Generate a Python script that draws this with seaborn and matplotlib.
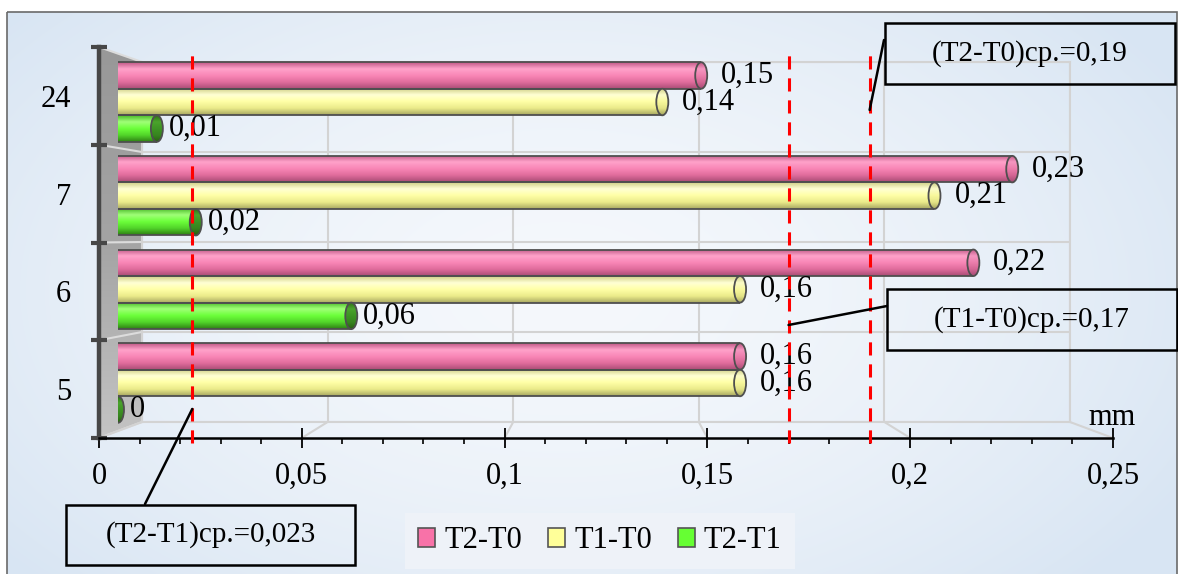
import numpy as np
import pandas as pd
import matplotlib
matplotlib.use("Agg")
import matplotlib.pyplot as plt
import seaborn as sns
from matplotlib.patches import Ellipse, Rectangle, Polygon, Patch, Arc
from matplotlib.colors import to_rgb, LinearSegmentedColormap
from matplotlib.ticker import FuncFormatter, MultipleLocator

# ---- data -------------------------------------------------------------
categories = ["24", "7", "6", "5"]
series = ["T2-T0", "T1-T0", "T2-T1"]
t2_t0 = [0.15, 0.23, 0.22, 0.16]
t1_t0 = [0.14, 0.21, 0.16, 0.16]
t2_t1 = [0.01, 0.02, 0.06, 0.0]
mean_names = ["T2-T1", "T1-T0", "T2-T0"]
mean_values = [0.023, 0.17, 0.19]
x_ticks = [0, 0.05, 0.1, 0.15, 0.2, 0.25]
unit = "mm"

# ---- style ------------------------------------------------------------
sns.set_theme(style="white")
plt.rcParams["font.family"] = ["Liberation Serif", "DejaVu Serif"]

FS = 22
palette = dict(zip(series, ["#f780b0", "#ffffa0", "#66ff33"]))
legend_colors = dict(zip(series, ["#f872a8", "#ffff99", "#66ff33"]))
body_stops = {
    "T2-T0": ["#c05886", "#ffa2ca", "#f986b6", "#e06c9c", "#a94c75"],
    "T1-T0": ["#cfcf86", "#ffffd4", "#ffffa6", "#eaea8a", "#a8a862"],
    "T2-T1": ["#48b827", "#a0ff78", "#6cff3a", "#52d42a", "#2e7f14"],
}
cap_stops = {
    "T2-T0": ["#bb5582", "#f596c0", "#ec7eac", "#d46694", "#a64b74"],
    "T1-T0": ["#cccc84", "#fbfbc8", "#f8f89c", "#e4e486", "#a6a660"],
    "T2-T1": ["#2c7016", "#4ba42c", "#3e9424", "#37851f", "#285f12"],
}
label_offset = {"T2-T0": 20, "T1-T0": 20, "T2-T1": 12}
edge = "#4f4f4f"


def fmt(v):
    return f"{v:g}".replace(".", ",")


W, H = 1178, 574
fig = plt.figure(figsize=(W / 100, H / 100), dpi=100)
fig.patch.set_facecolor("white")


def frac_box(x0, y0, x1, y1):
    return [x0 / W, 1 - y1 / H, (x1 - x0) / W, (y1 - y0) / H]


ax_bg = fig.add_axes([0, 0, 1, 1], zorder=0)
ax_back = fig.add_axes(frac_box(142, 62, 1070, 422), zorder=1)
ax_bars = fig.add_axes(frac_box(118, 55.2, 1090, 429.8), zorder=2)
ax_front = fig.add_axes(frac_box(99, 47, 1113, 438), zorder=3)
ax_top = fig.add_axes([0, 0, 1, 1], zorder=4)

for a in (ax_bg, ax_top):
    a.set_xlim(0, W)
    a.set_ylim(H, 0)
    a.set_axis_off()
    a.patch.set_alpha(0)

# ---- chart area background --------------------------------------------
yy, xx = np.mgrid[12:574, 7:1177]
d = np.clip(np.sqrt(((xx - 560) / 720) ** 2 + ((yy - 290) / 430) ** 2), 0, 1)
c_in = np.array(to_rgb("#f5f8fc"))
c_out = np.array(to_rgb("#d8e5f3"))
bg = c_in + (c_out - c_in) * (d[..., None] ** 1.6)
ax_bg.imshow(bg, extent=(7, 1177, 574, 12), aspect="auto", zorder=0)
ax_bg.add_patch(Rectangle((7, 12), 1170, 570, fill=False, ec="#6a6a6a", lw=1.2, zorder=1))
ax_bg.set_xlim(0, W)
ax_bg.set_ylim(H, 0)

# ---- back wall grid -----------------------------------------------------
boundaries = np.arange(-0.5, len(categories), 1.0)
grid_c = "#d3d3d3"
ax_back.set_xlim(0, 0.25)
ax_back.set_ylim(len(categories) - 0.5, -0.5)
ax_back.patch.set_alpha(0)
ax_back.set_xticks(x_ticks)
ax_back.set_yticks(boundaries)
ax_back.tick_params(length=0, labelbottom=False, labelleft=False)
ax_back.grid(True, color=grid_c, lw=1.5)
for s in ax_back.spines.values():
    s.set_visible(True)
    s.set_color(grid_c)
    s.set_linewidth(1.5)

# ---- bars -----------------------------------------------------------------
df = pd.DataFrame({
    "interval": categories * 3,
    "series": np.repeat(series, len(categories)),
    "value": t2_t0 + t1_t0 + t2_t1,
})
sns.barplot(data=df, y="interval", x="value", hue="series", order=categories,
            hue_order=series, palette=palette, orient="h", width=0.85,
            saturation=1, edgecolor="none", linewidth=0, legend=False,
            errorbar=None, ax=ax_bars)
ax_bars.set_xlim(0, 0.25)
ax_bars.set_ylim(len(categories) - 0.5, -0.5)

# cylinder look: gradient fill, rounded left end and an end cap
px_per_x = ax_bars.transData.transform([(1, 0)])[0, 0] - ax_bars.transData.transform([(0, 0)])[0, 0]
rx = 6.0 / px_per_x
for s, cont in zip(series, ax_bars.containers):
    grad = LinearSegmentedColormap.from_list(s, body_stops[s])(np.linspace(0, 1, 96))[:, None, :3]
    cgrad = LinearSegmentedColormap.from_list(s + "c", cap_stops[s])(np.linspace(0, 1, 96))[:, None, :3]
    for p, v in zip(cont.patches, cont.datavalues):
        x, y, w, h = p.get_x(), p.get_y(), p.get_width(), p.get_height()
        yc = y + h / 2
        left = Ellipse((x, yc), 2 * rx, h, fc=body_stops[s][2], ec="none", zorder=1.5)
        ax_bars.add_patch(left)
        im = ax_bars.imshow(grad, extent=(x - rx, x + rx, y + h, y), aspect="auto",
                            interpolation="bilinear", zorder=1.6)
        im.set_clip_path(left)
        ax_bars.add_patch(Arc((x, yc), 2 * rx, h, theta1=90, theta2=270, ec=edge, lw=1.3, zorder=1.9))
        p.set_zorder(1.7)
        if w > 0:
            im = ax_bars.imshow(grad, extent=(x, x + w, y + h, y), aspect="auto",
                                interpolation="bilinear", zorder=1.8)
            im.set_clip_path(p)
            ax_bars.plot([x, x + w], [y, y], color=edge, lw=1.3, zorder=1.9, solid_capstyle="butt")
            ax_bars.plot([x, x + w], [y + h, y + h], color=edge, lw=1.3, zorder=1.9, solid_capstyle="butt")
        cap = Ellipse((x + w, yc), 2 * rx, h, fc=cap_stops[s][2], ec="none", zorder=2.0)
        ax_bars.add_patch(cap)
        im = ax_bars.imshow(cgrad, extent=(x + w - rx, x + w + rx, y + h, y), aspect="auto",
                            interpolation="bilinear", zorder=2.1)
        im.set_clip_path(cap)
        ax_bars.add_patch(Ellipse((x + w, yc), 2 * rx, h, fill=False, ec=edge, lw=1.3, zorder=2.2))
        ax_bars.annotate(fmt(v), xy=(x + w, yc), xytext=(label_offset[s], 0),
                         textcoords="offset pixels", ha="left", va="center",
                         fontsize=FS, color="black", zorder=3)
ax_bars.set_xlim(0, 0.25)
ax_bars.set_ylim(len(categories) - 0.5, -0.5)
ax_bars.set_axis_off()

# ---- front axes (value scale and category labels) ---------------------
ax_front.set_xlim(0, 0.25)
ax_front.set_ylim(len(categories) - 0.5, -0.5)
ax_front.patch.set_alpha(0)
ax_front.spines["top"].set_visible(False)
ax_front.spines["right"].set_visible(False)
ax_front.spines["left"].set_color("#474747")
ax_front.spines["left"].set_linewidth(3.2)
ax_front.spines["bottom"].set_color("black")
ax_front.spines["bottom"].set_linewidth(1.8)
ax_front.set_xticks(x_ticks)
ax_front.xaxis.set_major_formatter(FuncFormatter(lambda v, _: fmt(v)))
ax_front.xaxis.set_minor_locator(MultipleLocator(0.01))
ax_front.tick_params(axis="x", which="major", bottom=True, direction="inout", length=14,
                     width=1.3, color="black", labelsize=FS, labelcolor="black", pad=10)
ax_front.tick_params(axis="x", which="minor", bottom=True, direction="out", length=4.5,
                     width=1.2, color="black")
ax_front.set_yticks(boundaries)
ax_front.set_yticklabels([])
ax_front.tick_params(axis="y", which="major", left=True, direction="inout", length=12,
                     width=3, color="#474747")
ax_front.set_yticks(range(len(categories)), minor=True)
ax_front.set_yticklabels(categories, minor=True)
ax_front.tick_params(axis="y", which="minor", left=True, length=0, labelsize=FS,
                     labelcolor="black", pad=20)
ax_front.text(1.0227, 0.033, unit, transform=ax_front.transAxes, ha="right",
              va="baseline", fontsize=FS, color="black")

# mean values as dashed red lines
for v in mean_values:
    ax_front.axvline(v, ymin=-5 / 391, ymax=1 - 5 / 391, color="#ff0000", lw=2.2,
                     linestyle=(0, (4.3, 2.9)), clip_on=False, zorder=5)


# ---- 3D side wall and floor lines -------------------------------------
def to_pix(ax, pts):
    dd = ax.transData.transform(pts)
    return np.column_stack([dd[:, 0], H - dd[:, 1]])


fr = to_pix(ax_front, [(0, b) for b in boundaries])
bk = to_pix(ax_back, [(0, b) for b in boundaries])
wall = Polygon([fr[0], bk[0], bk[-1], fr[-1]], closed=True, fc="#aaaaaa", ec="none", zorder=2)
ax_bg.add_patch(wall)
wgrad = LinearSegmentedColormap.from_list("wall", ["#989898", "#a4a4a4", "#c4c4c4"])(np.linspace(0, 1, 64))[:, None, :3]
wim = ax_bg.imshow(wgrad, extent=(fr[0][0], bk[0][0], fr[-1][1], fr[0][1]), aspect="auto", zorder=2.1)
wim.set_clip_path(wall)
for f, b in zip(fr, bk):
    ax_bg.plot([f[0], b[0]], [f[1], b[1]], color="#dcdcdc", lw=1.5, zorder=2.2)
ffl = to_pix(ax_front, [(v, boundaries[-1]) for v in x_ticks])
bfl = to_pix(ax_back, [(v, boundaries[-1]) for v in x_ticks])
for f, b in zip(ffl, bfl):
    ax_bg.plot([f[0], b[0]], [f[1], b[1]], color=grid_c, lw=1.5, zorder=2.2)
ax_bg.set_xlim(0, W)
ax_bg.set_ylim(H, 0)

# ---- callout boxes for the mean values --------------------------------
boxes = [(66, 505, 355, 565), (887, 289, 1177, 350), (885, 23, 1175, 84)]
anchor_y = [3.203, 2.344, 0.144]
box_ends = [(145, 504), (887, 306), (884, 40)]
for name, v, (x0, y0, x1, y1), ya, end in zip(mean_names, mean_values, boxes, anchor_y, box_ends):
    ax_top.add_patch(Rectangle((x0, y0), x1 - x0, y1 - y0, fill=False, ec="black", lw=1.8))
    ax_top.text((x0 + x1) / 2, (y0 + y1) / 2, f"({name})ср.={fmt(v)}", ha="center",
                va="center", fontsize=21, color="black")
    ax_top.annotate("", xy=(v, ya), xycoords=ax_front.transData, xytext=end,
                    textcoords="data", annotation_clip=False,
                    arrowprops=dict(arrowstyle="-", color="black", lw=1.8, shrinkA=0, shrinkB=0))

# ---- legend -----------------------------------------------------------
handles = [Patch(fc=legend_colors[s], ec="#555555", lw=1.2) for s in series]
leg = fig.legend(handles, series, ncol=3, loc="center", bbox_to_anchor=(600 / W, 1 - 541 / H),
                 fontsize=FS, frameon=True, facecolor="#eef2f8", edgecolor="none",
                 framealpha=1, fancybox=False, handlelength=0.55, handleheight=0.55,
                 handletextpad=0.3, columnspacing=0.85, borderpad=0.45)
for t in leg.get_texts():
    t.set_color("black")

fig.savefig("out.png", dpi=100)
